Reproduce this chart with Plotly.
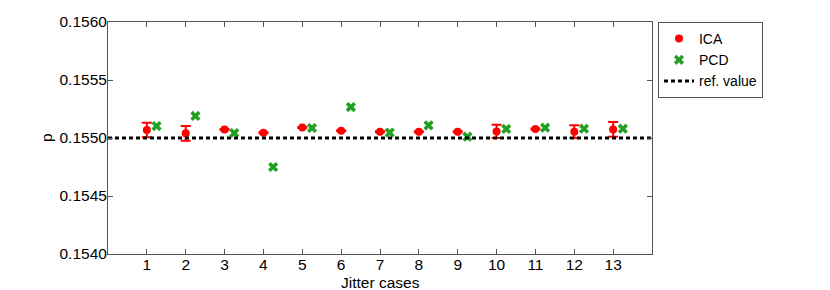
import plotly.graph_objects as go

cases = list(range(1, 14))
ica_values = [0.155069, 0.155040, 0.155074, 0.155046, 0.155091, 0.155063, 0.155054,
              0.155054, 0.155054, 0.155057, 0.155078, 0.155054, 0.155074]
ica_errors = [0.000063, 0.000063, 0.000004, 0.000004, 0.000004, 0.000004, 0.000004,
              0.000004, 0.000004, 0.000058, 0.000004, 0.000055, 0.000064]
pcd_values = [0.155103, 0.155190, 0.155043, 0.154750, 0.155086, 0.155267, 0.155046,
              0.155109, 0.155011, 0.155078, 0.155089, 0.155080, 0.155080]
pcd_offset = 0.25
ref_value = 0.1550
x_limits = [0, 14]
y_ticks = [0.1540, 0.1545, 0.1550, 0.1555, 0.1560]
y_tick_labels = ["0.1540", "0.1545", "0.1550", "0.1555", "0.1560"]
x_title = "Jitter cases"
y_title = "p"

font = dict(family="Liberation Sans, Arial, Helvetica, sans-serif", size=15.5, color="black")
legend_font = dict(family="Liberation Sans, Arial, Helvetica, sans-serif", size=14, color="black")

fig = go.Figure()
fig.add_trace(go.Scatter(
    x=cases, y=ica_values, mode="markers", name="ICA",
    marker=dict(color="#ff0000", size=8, symbol="circle"),
    error_y=dict(type="data", array=ica_errors, visible=True, color="#ff0000",
                 thickness=2, width=5),
))
fig.add_trace(go.Scatter(
    x=[c + pcd_offset for c in cases], y=pcd_values, mode="markers", name="PCD",
    marker=dict(color="#22a022", size=9, symbol="x", line=dict(width=0)),
))
fig.add_trace(go.Scatter(
    x=x_limits, y=[ref_value, ref_value], mode="lines", name="ref. value",
    line=dict(color="black", width=3, dash="4px,3px"),
))

axis_common = dict(showline=True, linecolor="#555", linewidth=1, mirror="ticks",
                   ticks="inside", ticklen=5, tickcolor="#555", showgrid=False,
                   zeroline=False, tickfont=font, automargin=False)
fig.update_layout(
    width=822, height=282,
    margin=dict(l=100, r=178, t=14, b=36),
    paper_bgcolor="white", plot_bgcolor="white",
    font=font,
    showlegend=True,
    legend=dict(x=1.011, y=1.0, xanchor="left", yanchor="top",
                bordercolor="#555", borderwidth=1, font=legend_font,
                tracegroupgap=0, itemwidth=30),
    xaxis=dict(range=x_limits, tickvals=cases, ticktext=[str(c) for c in cases],
               ticklabelstandoff=-4, **axis_common),
    yaxis=dict(range=[y_ticks[0], y_ticks[-1]], tickvals=y_ticks, ticktext=y_tick_labels,
               ticklabelstandoff=-3, **axis_common),
    annotations=[
        dict(text=x_title, xref="paper", yref="paper", x=0.5, y=0, yshift=-28,
             xanchor="center", yanchor="middle", showarrow=False, font=font),
        dict(text=y_title, xref="paper", yref="paper", x=0, y=0.5, xshift=-62,
             xanchor="center", yanchor="middle", textangle=-90, showarrow=False, font=font),
    ],
)
fig.write_html("out.html")
